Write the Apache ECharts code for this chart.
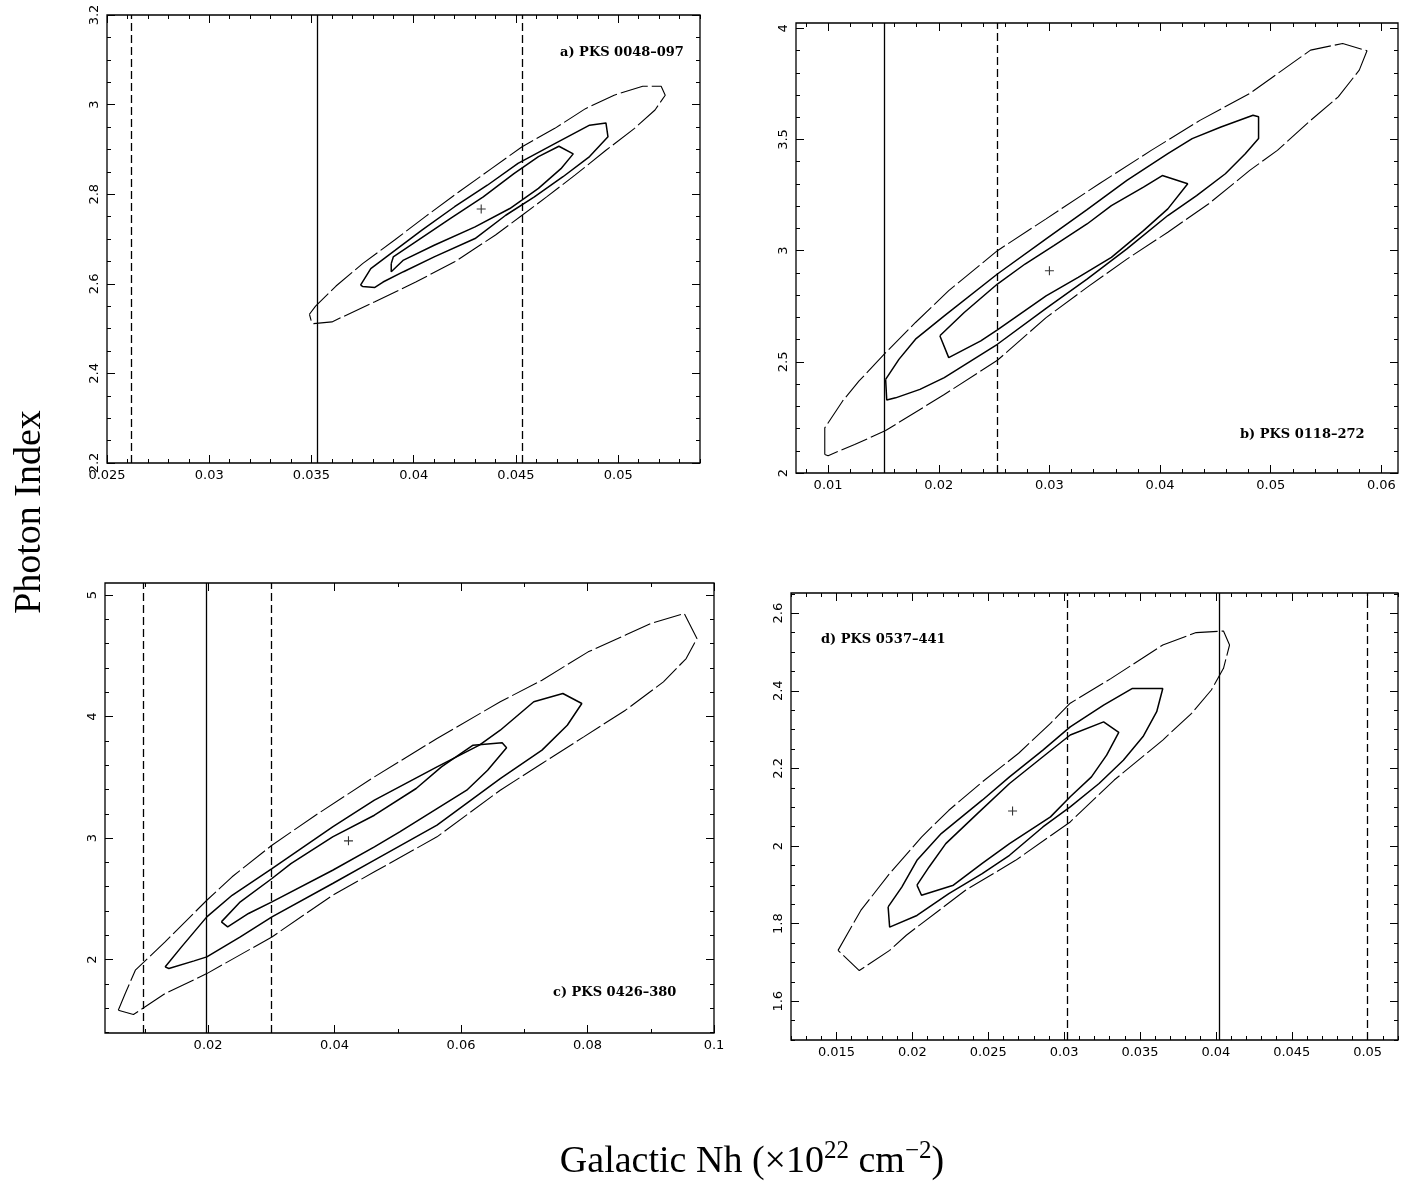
<!DOCTYPE html>
<html><head><meta charset="utf-8">
<script src="https://cdn.jsdelivr.net/npm/echarts@6/dist/echarts.min.js"></script>
<style>html,body{margin:0;padding:0;background:#fff}#c{width:1416px;height:1185px}</style>
</head><body><div id="c"></div>
<script>
// ---------------- DATA ----------------
const panelNames = ['a) PKS 0048\u2013097', 'b) PKS 0118\u2013272', 'c) PKS 0426\u2013380', 'd) PKS 0537\u2013441'];
const yTitle = 'Photon Index';

// Panel a
const aXRange = [0.025, 0.054], aYRange = [2.2, 3.2];
const aXTicks = [0.025, 0.03, 0.035, 0.04, 0.045, 0.05], aYTicks = [2.2, 2.4, 2.6, 2.8, 3, 3.2];
const aOuter = [[0.0349,2.532],[0.0352,2.550],[0.0362,2.595],[0.0375,2.645],[0.0391,2.699],[0.0406,2.751],[0.0422,2.805],[0.0438,2.857],[0.0453,2.906],[0.0469,2.947],[0.0484,2.991],[0.0498,3.021],[0.0512,3.041],[0.0521,3.041],[0.0523,3.021],[0.0518,2.988],[0.0508,2.947],[0.0494,2.898],[0.0479,2.843],[0.0465,2.794],[0.0453,2.753],[0.0440,2.709],[0.0420,2.649],[0.0401,2.604],[0.0381,2.560],[0.0367,2.530],[0.0360,2.515],[0.0351,2.511],[0.0350,2.515]];
const aMiddle = [[0.0374,2.597],[0.0379,2.634],[0.0391,2.675],[0.0404,2.720],[0.0420,2.772],[0.0436,2.820],[0.0451,2.869],[0.0469,2.913],[0.0486,2.954],[0.0494,2.959],[0.0495,2.928],[0.0486,2.884],[0.0473,2.839],[0.0459,2.794],[0.0445,2.753],[0.0430,2.701],[0.0410,2.660],[0.0395,2.627],[0.0385,2.604],[0.0381,2.592],[0.0375,2.594]];
const aInner = [[0.0389,2.645],[0.0390,2.660],[0.0402,2.697],[0.0418,2.746],[0.0434,2.794],[0.0449,2.846],[0.0461,2.884],[0.0471,2.907],[0.0478,2.890],[0.0472,2.857],[0.0461,2.813],[0.0447,2.768],[0.0430,2.727],[0.0410,2.686],[0.0395,2.653],[0.0389,2.627]];
const aBest = [0.0433, 2.767];
const aSolid = [0.0353], aDashed = [0.0262, 0.0453];

// Panel b
const bXRange = [0.0071, 0.0615], bYRange = [2, 4.024];
const bXTicks = [0.01, 0.02, 0.03, 0.04, 0.05, 0.06], bYTicks = [2, 2.5, 3, 3.5, 4];
const bOuter = [[0.0097,2.083],[0.0097,2.203],[0.0113,2.323],[0.0128,2.414],[0.0152,2.541],[0.0179,2.677],[0.0209,2.820],[0.0253,3.000],[0.0297,3.143],[0.0345,3.301],[0.0392,3.451],[0.0436,3.586],[0.0481,3.707],[0.0536,3.902],[0.0565,3.932],[0.0587,3.899],[0.0580,3.812],[0.0561,3.692],[0.0536,3.586],[0.0506,3.451],[0.0481,3.361],[0.0444,3.211],[0.0407,3.083],[0.0370,2.962],[0.0334,2.835],[0.0297,2.699],[0.0253,2.507],[0.0205,2.353],[0.0152,2.191],[0.0124,2.128],[0.0100,2.078]];
const bMiddle = [[0.0152,2.421],[0.0164,2.511],[0.0179,2.602],[0.0205,2.707],[0.0253,2.895],[0.0297,3.053],[0.0334,3.185],[0.0370,3.316],[0.0407,3.436],[0.0429,3.504],[0.0455,3.556],[0.0484,3.609],[0.0489,3.602],[0.0489,3.504],[0.0477,3.436],[0.0459,3.346],[0.0433,3.248],[0.0407,3.158],[0.0370,3.008],[0.0334,2.872],[0.0297,2.740],[0.0253,2.579],[0.0205,2.429],[0.0183,2.376],[0.0161,2.338],[0.0153,2.328]];
const bInner = [[0.0201,2.617],[0.0223,2.722],[0.0253,2.850],[0.0278,2.940],[0.0304,3.023],[0.0334,3.120],[0.0356,3.203],[0.0385,3.286],[0.0402,3.338],[0.0425,3.301],[0.0407,3.188],[0.0385,3.090],[0.0356,2.970],[0.0326,2.880],[0.0297,2.797],[0.0253,2.644],[0.0238,2.594],[0.0209,2.519]];
const bBest = [0.0300, 2.91];
const bSolid = [0.0151], bDashed = [0.0253];

// Panel c
const cXRange = [0.0037, 0.1], cYRange = [1.395, 5.1];
const cXTicks = [0.02, 0.04, 0.06, 0.08, 0.1], cYTicks = [2, 3, 4, 5];
const cOuter = [[0.0058,1.582],[0.0069,1.720],[0.0085,1.912],[0.0132,2.145],[0.0198,2.488],[0.0238,2.681],[0.0301,2.941],[0.0370,3.188],[0.0463,3.504],[0.0562,3.820],[0.0662,4.122],[0.0728,4.300],[0.0801,4.533],[0.0860,4.671],[0.0900,4.767],[0.0953,4.849],[0.0973,4.643],[0.0956,4.478],[0.0920,4.286],[0.0860,4.053],[0.0794,3.833],[0.0728,3.614],[0.0662,3.394],[0.0562,3.010],[0.0463,2.722],[0.0397,2.529],[0.0301,2.186],[0.0198,1.884],[0.0132,1.720],[0.0082,1.547]];
const cMiddle = [[0.0132,1.939],[0.0158,2.104],[0.0198,2.351],[0.0238,2.529],[0.0301,2.749],[0.0397,3.092],[0.0463,3.312],[0.0562,3.586],[0.0629,3.765],[0.0662,3.888],[0.0715,4.122],[0.0761,4.190],[0.0791,4.108],[0.0768,3.929],[0.0728,3.724],[0.0662,3.490],[0.0562,3.106],[0.0463,2.818],[0.0397,2.626],[0.0301,2.351],[0.0251,2.186],[0.0198,2.022],[0.0178,1.989],[0.0138,1.926]];
const cInner = [[0.0221,2.310],[0.0251,2.475],[0.0301,2.667],[0.0331,2.790],[0.0397,3.010],[0.0463,3.188],[0.0529,3.408],[0.0569,3.586],[0.0619,3.765],[0.0665,3.784],[0.0672,3.743],[0.0642,3.559],[0.0609,3.394],[0.0562,3.243],[0.0503,3.051],[0.0463,2.928],[0.0397,2.735],[0.0301,2.475],[0.0264,2.379],[0.0231,2.269]];
const cBest = [0.0422, 2.977];
const cSolid = [0.0197], cDashed = [0.0097, 0.0300];

// Panel d
const dXRange = [0.012, 0.052], dYRange = [1.5, 2.652];
const dXTicks = [0.015, 0.02, 0.025, 0.03, 0.035, 0.04, 0.045, 0.05], dYTicks = [1.6, 1.8, 2, 2.2, 2.4, 2.6];
const dOuter = [[0.0151,1.731],[0.0166,1.834],[0.0185,1.929],[0.0206,2.023],[0.0224,2.092],[0.0246,2.165],[0.0270,2.239],[0.0291,2.316],[0.0304,2.368],[0.0331,2.432],[0.0365,2.518],[0.0387,2.550],[0.0405,2.554],[0.0409,2.518],[0.0405,2.458],[0.0397,2.402],[0.0384,2.342],[0.0365,2.273],[0.0333,2.170],[0.0304,2.062],[0.0268,1.963],[0.0235,1.886],[0.0196,1.770],[0.0185,1.731],[0.0165,1.679]];
const dMiddle = [[0.0184,1.843],[0.0193,1.894],[0.0203,1.963],[0.0219,2.032],[0.0246,2.118],[0.0264,2.178],[0.0286,2.247],[0.0304,2.307],[0.0326,2.363],[0.0345,2.406],[0.0365,2.406],[0.0361,2.346],[0.0352,2.282],[0.0339,2.221],[0.0323,2.161],[0.0304,2.101],[0.0286,2.049],[0.0264,1.976],[0.0246,1.929],[0.0224,1.877],[0.0203,1.821],[0.0185,1.791]];
const dInner = [[0.0203,1.899],[0.0211,1.946],[0.0222,2.006],[0.0243,2.084],[0.0264,2.161],[0.0286,2.230],[0.0304,2.286],[0.0326,2.320],[0.0336,2.293],[0.0328,2.234],[0.0318,2.178],[0.0304,2.127],[0.0291,2.075],[0.0264,2.006],[0.0246,1.955],[0.0227,1.899],[0.0206,1.873]];
const dBest = [0.0266, 2.090];
const dSolid = [0.0402], dDashed = [0.0302, 0.0500];

// ---------------- BUILD ----------------
const panels = [
  {name: panelNames[0], xr: aXRange, yr: aYRange, xt: aXTicks, yt: aYTicks, xm: 0.001, ym: 0.05, c: [aOuter, aMiddle, aInner], best: aBest, solid: aSolid, dashed: aDashed,
   grid: {left: 107, top: 15, width: 593, height: 448}, label: [560, 53]},
  {name: panelNames[1], xr: bXRange, yr: bYRange, xt: bXTicks, yt: bYTicks, xm: 0.002, ym: 0.1, c: [bOuter, bMiddle, bInner], best: bBest, solid: bSolid, dashed: bDashed,
   grid: {left: 796, top: 23, width: 602, height: 450}, label: [1240, 435]},
  {name: panelNames[2], xr: cXRange, yr: cYRange, xt: cXTicks, yt: cYTicks, xm: 0.01, ym: 0.2, c: [cOuter, cMiddle, cInner], best: cBest, solid: cSolid, dashed: cDashed,
   grid: {left: 105, top: 583, width: 609, height: 450}, label: [553, 993]},
  {name: panelNames[3], xr: dXRange, yr: dYRange, xt: dXTicks, yt: dYTicks, xm: 0.001, ym: 0.05, c: [dOuter, dMiddle, dInner], best: dBest, solid: dSolid, dashed: dDashed,
   grid: {left: 791, top: 593, width: 607, height: 447}, label: [821, 640]}
];

function minorTicks(range, step, majors) {
  const out = [];
  const start = Math.ceil(range[0] / step - 1e-9);
  for (let k = start; k * step <= range[1] + 1e-12; k++) {
    const v = +(k * step).toFixed(6);
    if (!majors.some(m => Math.abs(m - v) < step / 10)) out.push(v);
  }
  return out;
}
const fmt = v => String(+(+v).toFixed(4));
const tickFont = {fontFamily: '"DejaVu Sans", sans-serif', fontSize: 13, color: '#000'};

const grids = [], xAxes = [], yAxes = [], series = [], graphics = [];
panels.forEach((p, i) => {
  grids.push(Object.assign({show: true, borderColor: '#000', borderWidth: 1.3, backgroundColor: 'transparent'}, p.grid));
  const xmin = minorTicks(p.xr, p.xm, p.xt), ymin = minorTicks(p.yr, p.ym, p.yt);
  const mk = (isX, pos, vals, len, showLabel) => {
    const ax = {
      gridIndex: i, type: 'value', position: pos, min: isX ? p.xr[0] : p.yr[0], max: isX ? p.xr[1] : p.yr[1],
      axisLine: {show: false}, splitLine: {show: false},
      axisTick: {show: true, inside: true, length: len, customValues: vals, lineStyle: {color: '#000', width: 1}},
      axisLabel: showLabel ? Object.assign({show: true, customValues: vals, formatter: fmt, margin: 6, rotate: isX ? 0 : 90}, tickFont) : {show: false}
    };
    (isX ? xAxes : yAxes).push(ax);
  };
  mk(true, 'bottom', p.xt, 8, true);
  mk(true, 'bottom', xmin, 4, false);
  mk(true, 'top', p.xt, 8, false);
  mk(true, 'top', xmin, 4, false);
  mk(false, 'left', p.yt, 8, true);
  mk(false, 'left', ymin, 4, false);
  mk(false, 'right', p.yt, 8, false);
  mk(false, 'right', ymin, 4, false);
  const xi = i * 4, yi = i * 4;
  const styles = [
    {color: '#000', width: 1.1, type: [28, 4]},
    {color: '#000', width: 1.5},
    {color: '#000', width: 1.5}
  ];
  p.c.forEach((poly, k) => {
    series.push({type: 'line', xAxisIndex: xi, yAxisIndex: yi, data: poly.concat([poly[0]]), showSymbol: false, symbol: 'none',
      lineStyle: styles[k], silent: true, animation: false, z: 3});
  });
  const ml = [];
  p.solid.forEach(v => ml.push({xAxis: v, lineStyle: {type: 'solid', width: 1.3, color: '#000'}}));
  p.dashed.forEach(v => ml.push({xAxis: v, lineStyle: {type: [8, 4], width: 1.3, color: '#000'}}));
  series.push({type: 'scatter', xAxisIndex: xi, yAxisIndex: yi, data: [p.best], symbol: 'path://M-0.6,-5H0.6V5H-0.6Z M-5,-0.6H5V0.6H-5Z', symbolSize: 9,
    itemStyle: {color: '#000'}, silent: true, animation: false,
    markLine: {silent: true, precision: 6, symbol: ['none', 'none'], label: {show: false}, animation: false, data: ml}});
  graphics.push({type: 'text', x: p.label[0], y: p.label[1], style: {text: p.name, fill: '#000', font: 'bold 13px "DejaVu Serif", serif', textVerticalAlign: 'middle'}});
});

graphics.push({type: 'text', x: 30, y: 512, rotation: Math.PI / 2,
  style: {text: yTitle, fill: '#000', font: '38px "Liberation Serif", serif', textAlign: 'center', textVerticalAlign: 'middle'}});
graphics.push({type: 'text', x: 752, y: 1162,
  style: {text: '{m|Galactic Nh (\u00d710}{s|22}{m| cm}{s|\u22122}{m|)}', textAlign: 'center', textVerticalAlign: 'middle',
    rich: {m: {fontFamily: 'Liberation Serif', fontSize: 38, color: '#000', lineHeight: 46},
           s: {fontFamily: 'Liberation Serif', fontSize: 25, color: '#000', lineHeight: 25, verticalAlign: 'top'}}}});

const chart = echarts.init(document.getElementById('c'), null, {renderer: 'canvas'});
chart.setOption({
  animation: false, backgroundColor: '#fff',
  grid: grids, xAxis: xAxes, yAxis: yAxes, series: series, graphic: graphics
});
</script></body></html>
